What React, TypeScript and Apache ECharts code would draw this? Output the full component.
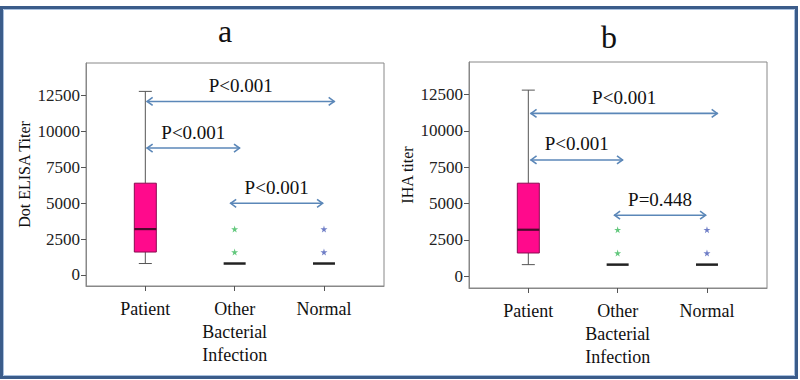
import React, { useEffect, useRef } from "react";
import * as echarts from "echarts";

const categories = ["Patient", "Other\nBacterial\nInfection", "Normal"];
const categoryPositions = [1, 2, 3];
const yTicks = [0, 2500, 5000, 7500, 10000, 12500];

// [position, min, q1, median, q3, max]
const boxA = [
  [1, 800, 1600, 3200, 6400, 12800],
  [2, 800, 800, 800, 800, 800],
  [3, 800, 800, 800, 800, 800],
];
const boxB = [
  [1, 800, 1600, 3200, 6400, 12800],
  [2, 800, 800, 800, 800, 800],
  [3, 800, 800, 800, 800, 800],
];
const outliersOtherA = [[2, 1600], [2, 3200]];
const outliersNormalA = [[3, 1600], [3, 3200]];
const outliersOtherB = [[2, 1600], [2, 3200]];
const outliersNormalB = [[3, 1600], [3, 3200]];

// [from, to, y]
const arrowsA = [[1.015, 3.12, 12100], [1.015, 2.06, 8850], [1.95, 2.99, 5000]];
const arrowLabelsA = ["P<0.001", "P<0.001", "P<0.001"];
const arrowsB = [[1.025, 3.12, 11200], [1.025, 2.06, 8000], [1.96, 2.99, 4200]];
const arrowLabelsB = ["P<0.001", "P<0.001", "P=0.448"];

const FONT = "Liberation Serif";
const ARROW = "#5b87b8";

function boxRender(params: any, api: any) {
  const x = api.value(0);
  const lo = api.value(1), q1 = api.value(2), med = api.value(3), q3 = api.value(4), hi = api.value(5);
  const hw = 11;
  const cw = 6.5;
  const pm = api.coord([x, med]);
  const children: any[] = [];
  if (q3 > q1) {
    const plo = api.coord([x, lo]);
    const pq1 = api.coord([x, q1]);
    const pq3 = api.coord([x, q3]);
    const phi = api.coord([x, hi]);
    const ws = { stroke: "#555", lineWidth: 1 };
    children.push({ type: "line", shape: { x1: phi[0], y1: phi[1], x2: pq3[0], y2: pq3[1] }, style: ws });
    children.push({ type: "line", shape: { x1: plo[0], y1: plo[1], x2: pq1[0], y2: pq1[1] }, style: ws });
    children.push({ type: "line", shape: { x1: phi[0] - cw, y1: phi[1], x2: phi[0] + cw, y2: phi[1] }, style: ws });
    children.push({ type: "line", shape: { x1: plo[0] - cw, y1: plo[1], x2: plo[0] + cw, y2: plo[1] }, style: ws });
    children.push({
      type: "rect",
      shape: { x: pq3[0] - hw, y: pq3[1], width: hw * 2, height: pq1[1] - pq3[1] },
      style: { fill: "#ff0a8c", stroke: "#8a0a50", lineWidth: 1 },
    });
    children.push({ type: "line", shape: { x1: pm[0] - hw, y1: pm[1], x2: pm[0] + hw, y2: pm[1] }, style: { stroke: "#4a0a2c", lineWidth: 2.2 } });
  } else {
    children.push({ type: "line", shape: { x1: pm[0] - hw, y1: pm[1], x2: pm[0] + hw, y2: pm[1] }, style: { stroke: "#222", lineWidth: 2.5 } });
  }
  return { type: "group", children };
}

function makeArrowRender(labels: string[]) {
  return (params: any, api: any) => {
    const x1 = api.value(0), x2 = api.value(1), y = api.value(2);
    const p1 = api.coord([x1, y]);
    const p2 = api.coord([x2, y]);
    const st = { stroke: ARROW, lineWidth: 1.6, fill: "none" };
    return {
      type: "group",
      children: [
        { type: "line", shape: { x1: p1[0], y1: p1[1], x2: p2[0], y2: p2[1] }, style: st },
        { type: "polyline", shape: { points: [[p1[0] + 6, p1[1] - 4], [p1[0] + 0.5, p1[1]], [p1[0] + 6, p1[1] + 4]] }, style: st },
        { type: "polyline", shape: { points: [[p2[0] - 6, p2[1] - 4], [p2[0] - 0.5, p2[1]], [p2[0] - 6, p2[1] + 4]] }, style: st },
        {
          type: "text",
          x: (p1[0] + p2[0]) / 2,
          y: p1[1] - 16,
          style: { text: labels[params.dataIndex], fill: "#111", font: `19px "${FONT}"`, align: "center", verticalAlign: "middle" },
        },
      ],
    };
  };
}

const STAR = "path://M50,0 L61,35 L98,35 L68,57 L79,91 L50,70 L21,91 L32,57 L2,35 L39,35 Z";

function xAxisCfg(gridIndex: number) {
  return {
    type: "value",
    gridIndex,
    min: 0.336,
    max: 3.672,
    splitLine: { show: false },
    axisLine: { show: true, onZero: false, lineStyle: { color: "#888", width: 1 } },
    axisTick: { show: true, customValues: categoryPositions, length: 5, lineStyle: { color: "#555" } },
    axisLabel: {
      customValues: categoryPositions,
      formatter: (v: number) => categories[Math.round(v) - 1] || "",
      color: "#111",
      fontFamily: FONT,
      fontSize: 18,
      lineHeight: 23,
      margin: 11,
    },
  };
}

function yAxisCfg(gridIndex: number, name: string, min: number, max: number) {
  return {
    type: "value",
    gridIndex,
    min,
    max,
    name,
    nameLocation: "middle",
    nameGap: 54,
    nameTextStyle: { color: "#111", fontFamily: FONT, fontSize: 16 },
    splitLine: { show: false },
    axisLine: { show: true, onZero: false, lineStyle: { color: "#888", width: 1 } },
    axisTick: { show: true, customValues: yTicks, length: 5, lineStyle: { color: "#555" } },
    axisLabel: {
      customValues: yTicks,
      formatter: (v: number) => String(Math.round(v)),
      color: "#222",
      fontFamily: FONT,
      fontSize: 17,
      margin: 6,
    },
  };
}

export default function App() {
  const ref = useRef<HTMLDivElement>(null);
  useEffect(() => {
    if (!ref.current) return;
    const chart = echarts.init(ref.current, null, { renderer: "svg" });
    chart.setOption({
      animation: false,
      backgroundColor: "#fff",
      textStyle: { fontFamily: FONT },
      grid: [
        { left: 86, right: 416, top: 63, bottom: 94, show: true, borderColor: "#888", borderWidth: 1 },
        { left: 469, right: 33, top: 62, bottom: 92, show: true, borderColor: "#888", borderWidth: 1 },
      ],
      xAxis: [xAxisCfg(0), xAxisCfg(1)],
      yAxis: [yAxisCfg(0, "Dot ELISA Titer", -767, 14779), yAxisCfg(1, "IHA titer", -807, 14734)],
      graphic: [
        { type: "rect", shape: { x: 1.5, y: 7.5, width: 795, height: 370 }, style: { fill: "none", stroke: "#3b5c8a", lineWidth: 3 }, z: 100 },
        { type: "rect", shape: { x: 3.5, y: 9.5, width: 791, height: 366 }, style: { fill: "none", stroke: "#a9c0de", lineWidth: 1 }, z: 100 },
        { type: "text", x: 225, y: 31, style: { text: "a", font: `32px "${FONT}"`, fill: "#111", align: "center", verticalAlign: "middle" } },
        { type: "text", x: 609, y: 37, style: { text: "b", font: `32px "${FONT}"`, fill: "#111", align: "center", verticalAlign: "middle" } },
      ],
      series: [
        { type: "custom", xAxisIndex: 0, yAxisIndex: 0, data: boxA, renderItem: boxRender, encode: { x: 0, y: [1, 5] } },
        { type: "custom", xAxisIndex: 1, yAxisIndex: 1, data: boxB, renderItem: boxRender, encode: { x: 0, y: [1, 5] } },
        { type: "scatter", xAxisIndex: 0, yAxisIndex: 0, data: outliersOtherA, symbol: STAR, symbolSize: 7, itemStyle: { color: "#3cba5c" } },
        { type: "scatter", xAxisIndex: 0, yAxisIndex: 0, data: outliersNormalA, symbol: STAR, symbolSize: 7, itemStyle: { color: "#4a5cb8" } },
        { type: "scatter", xAxisIndex: 1, yAxisIndex: 1, data: outliersOtherB, symbol: STAR, symbolSize: 7, itemStyle: { color: "#3cba5c" } },
        { type: "scatter", xAxisIndex: 1, yAxisIndex: 1, data: outliersNormalB, symbol: STAR, symbolSize: 7, itemStyle: { color: "#4a5cb8" } },
        { type: "custom", xAxisIndex: 0, yAxisIndex: 0, data: arrowsA, renderItem: makeArrowRender(arrowLabelsA), encode: { x: [0, 1], y: 2 } },
        { type: "custom", xAxisIndex: 1, yAxisIndex: 1, data: arrowsB, renderItem: makeArrowRender(arrowLabelsB), encode: { x: [0, 1], y: 2 } },
      ],
    });
    return () => chart.dispose();
  }, []);
  return <div ref={ref} style={{ position: "fixed", left: 0, top: 0, width: 800, height: 380 }} />;
}
